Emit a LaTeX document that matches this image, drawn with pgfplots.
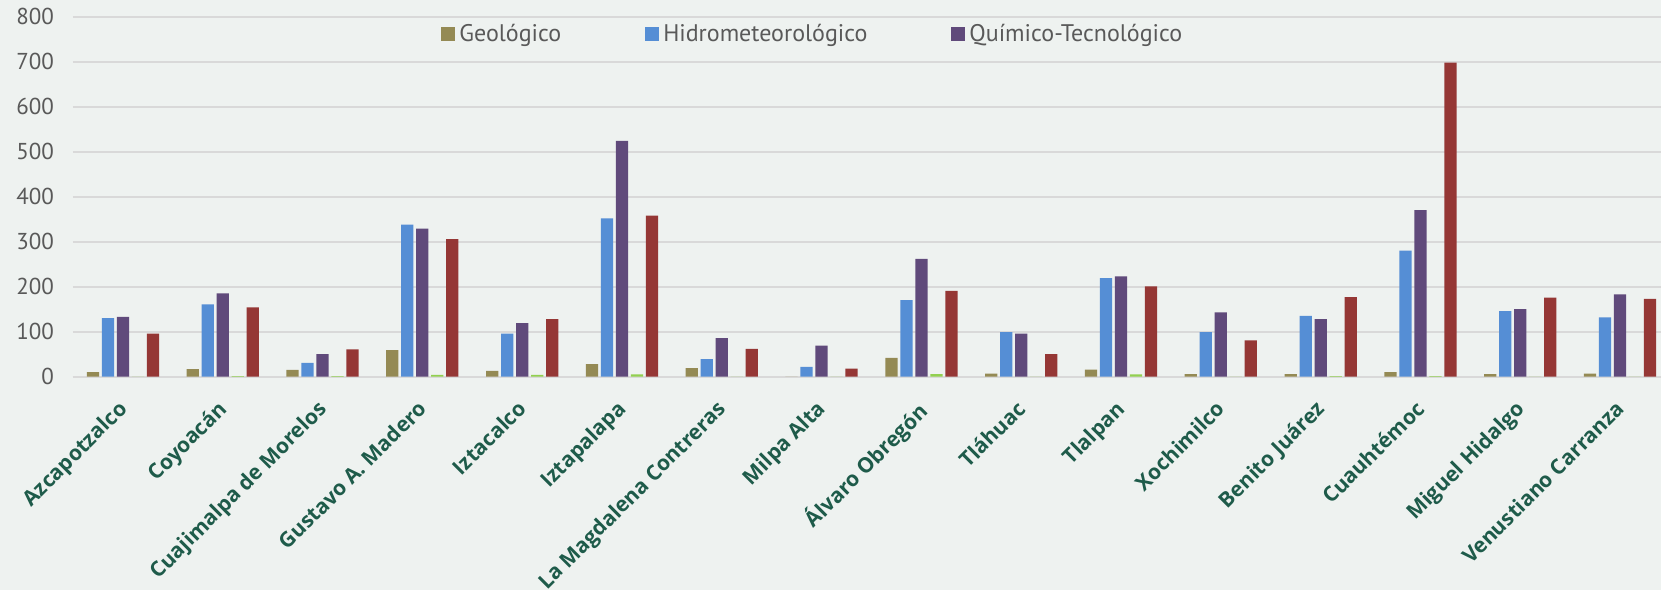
\documentclass[border=0pt]{standalone}
\usepackage{fontspec}
\setmainfont{PT Sans}
\newfontfamily\labfont{Open Sans}
\usepackage{pgfplots}
\usepackage{pgfplotstable}
\pgfplotsset{compat=1.18}
\definecolor{bgc}{HTML}{EEF2F0}
\definecolor{gridc}{HTML}{D9D9D9}
\definecolor{cgeo}{HTML}{948A54}
\definecolor{chid}{HTML}{558ED5}
\definecolor{cqui}{HTML}{604A7B}
\definecolor{csan}{HTML}{92D050}
\definecolor{csoc}{HTML}{953735}
\definecolor{labc}{HTML}{1E5B4A}
\definecolor{txtc}{HTML}{595959}
\pgfplotstableread{
x geo hid qui san soc
0 10 130 133 0 96
1 17 161 185 1.5 154
2 15 31 50 1.5 61
3 59 338 329 4 306
4 13 96 119 4 128
5 28 352 524 5 358
6 19 39 86 0 62
7 0 22 69 0 18
8 42 170 262 6 191
9 7 99 96 0 50
10 16 219 223 5 201
11 6 99 143 0 81
12 6 135 128 1.5 177
13 10 280 370 1.5 698
14 6 146 150 0 176
15 7 132 183 0 173
}\data
\begin{document}
\begin{tikzpicture}
\fill[bgc] (-36.5pt,-106.65pt) rectangle (794pt,188.35pt);
\begin{axis}[
  at={(0,0)}, anchor=south west,
  scale only axis, width=794pt, height=180pt,
  xmin=-0.5, xmax=15.41, ymin=0, ymax=800,
  ybar=1.4pt, bar width=6.1pt,
  axis x line*=bottom, axis y line*=left,
  y axis line style={draw=none},
  x axis line style={draw=gridc, line width=1pt},
  ymajorgrids, grid style={gridc, line width=0.8pt},
  major tick length=0pt,
  ytick={0,100,...,800},
  xtick={0,...,15},
  xticklabels={Azcapotzalco,Coyoacán,Cuajimalpa de Morelos,Gustavo A. Madero,Iztacalco,Iztapalapa,La Magdalena Contreras,Milpa Alta,Álvaro Obregón,Tláhuac,Tlalpan,Xochimilco,Benito Juárez,Cuauhtémoc,Miguel Hidalgo,Venustiano Carranza},
  xticklabel shift=11pt,
  xticklabel style={font=\labfont\bfseries\fontsize{10.5}{12}\selectfont, text=labc, rotate=45, anchor=north east, inner sep=0pt, xshift=-2.1pt, yshift=2.1pt},
  yticklabel style={font=\fontsize{11.5}{13}\selectfont, text=txtc, xshift=-6pt},
  /pgf/number format/assume math mode=true,
  legend columns=-1,
  legend style={at={(0.228,0.952)}, anchor=west, draw=none, fill=none,
    font=\fontsize{12}{14}\selectfont, text=txtc,
    /tikz/every even column/.append style={column sep=40pt}},
  legend image code/.code={\fill[#1] (0pt,-3.5pt) rectangle (7pt,3.5pt);},
  legend entries={Geológico,Hidrometeorológico,Químico-Tecnológico},
]
\addplot[fill=cgeo, draw=none] table[x=x,y=geo]{\data};
\addplot[fill=chid, draw=none] table[x=x,y=hid]{\data};
\addplot[fill=cqui, draw=none] table[x=x,y=qui]{\data};
\addplot[fill=csan, draw=none] table[x=x,y=san]{\data};
\addplot[fill=csoc, draw=none] table[x=x,y=soc]{\data};
\end{axis}
\pgfresetboundingbox
\useasboundingbox (-36.5pt,-106.65pt) rectangle (794pt,188.35pt);
\end{tikzpicture}
\end{document}
